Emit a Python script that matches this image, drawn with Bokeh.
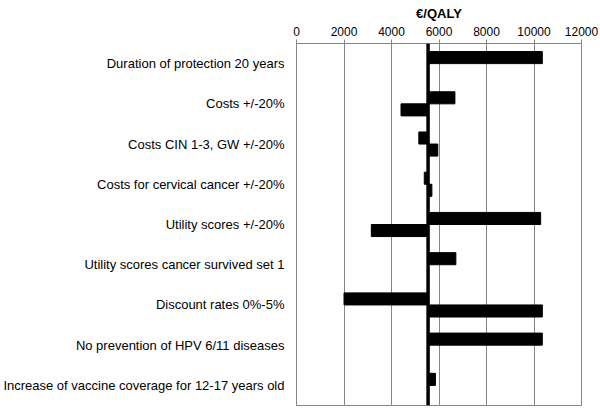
from bokeh.plotting import figure
from bokeh.models import FactorRange, Range1d, Span, FixedTicker, ColumnDataSource
from bokeh.transform import dodge
from bokeh.embed import file_html
from bokeh.resources import INLINE

categories = [
    "Duration of protection 20 years",
    "Costs +/-20%",
    "Costs CIN 1-3, GW +/-20%",
    "Costs for cervical cancer +/-20%",
    "Utility scores +/-20%",
    "Utility scores cancer survived set 1",
    "Discount rates 0%-5%",
    "No prevention of HPV 6/11 diseases",
    "Increase of vaccine coverage for 12-17 years old",
]
base_value = 5540
upper_values = [10350, 6670, 5150, 5380, 10280, 6710, 2000, 10350, 5850]
lower_values = [5540, 4400, 5950, 5700, 3150, 5540, 10350, 5540, 5540]
x_ticks = [0, 2000, 4000, 6000, 8000, 10000, 12000]
axis_title = "€/QALY"

source = ColumnDataSource(dict(
    cat=categories,
    base=[base_value] * len(categories),
    upper=upper_values,
    lower=lower_values,
))

FONT = "Liberation Sans"
GRAY = "#858585"

p = figure(
    width=600, height=408,
    y_range=FactorRange(factors=categories[::-1]),
    x_range=Range1d(0, 12000),
    x_axis_location="above",
    output_backend="svg", toolbar_location=None,
    min_border_left=295, min_border_right=19,
    min_border_top=43, min_border_bottom=3,
)
p.background_fill_color = "white"
p.border_fill_color = "white"
p.outline_line_color = GRAY
p.outline_line_width = 1

p.hbar(y=dodge("cat", 0.15, range=p.y_range), left="base", right="upper",
       height=0.3, source=source, fill_color="black", line_color="black")
p.hbar(y=dodge("cat", -0.15, range=p.y_range), left="base", right="lower",
       height=0.3, source=source, fill_color="black", line_color="black")

p.add_layout(Span(location=base_value, dimension="height",
                  line_color="black", line_width=3.5))

# grid
p.xgrid.grid_line_color = GRAY
p.xgrid.grid_line_width = 1
p.xgrid.ticker = FixedTicker(ticks=x_ticks)
p.ygrid.grid_line_color = None

# x axis (top)
xa = p.xaxis[0]
xa.ticker = FixedTicker(ticks=x_ticks)
xa.axis_label = axis_title
xa.axis_label_text_font = FONT
xa.axis_label_text_font_style = "bold"
xa.axis_label_text_font_size = "13px"
xa.axis_label_text_color = "black"
xa.axis_label_standoff = 3
xa.axis_line_color = GRAY
xa.major_tick_line_color = GRAY
xa.major_tick_out = 4
xa.major_tick_in = 0
xa.minor_tick_line_color = None
xa.major_label_text_font = FONT
xa.major_label_text_font_size = "12px"
xa.major_label_text_color = "black"
xa.major_label_standoff = 4

# y axis (left)
ya = p.yaxis[0]
ya.axis_line_color = GRAY
ya.major_tick_line_color = None
ya.minor_tick_line_color = None
ya.major_tick_out = 0
ya.major_tick_in = 0
ya.major_label_text_font = FONT
ya.major_label_text_font_size = "13px"
ya.major_label_text_color = "black"
ya.major_label_standoff = 12

open("out.html", "w").write(file_html(p, INLINE))
